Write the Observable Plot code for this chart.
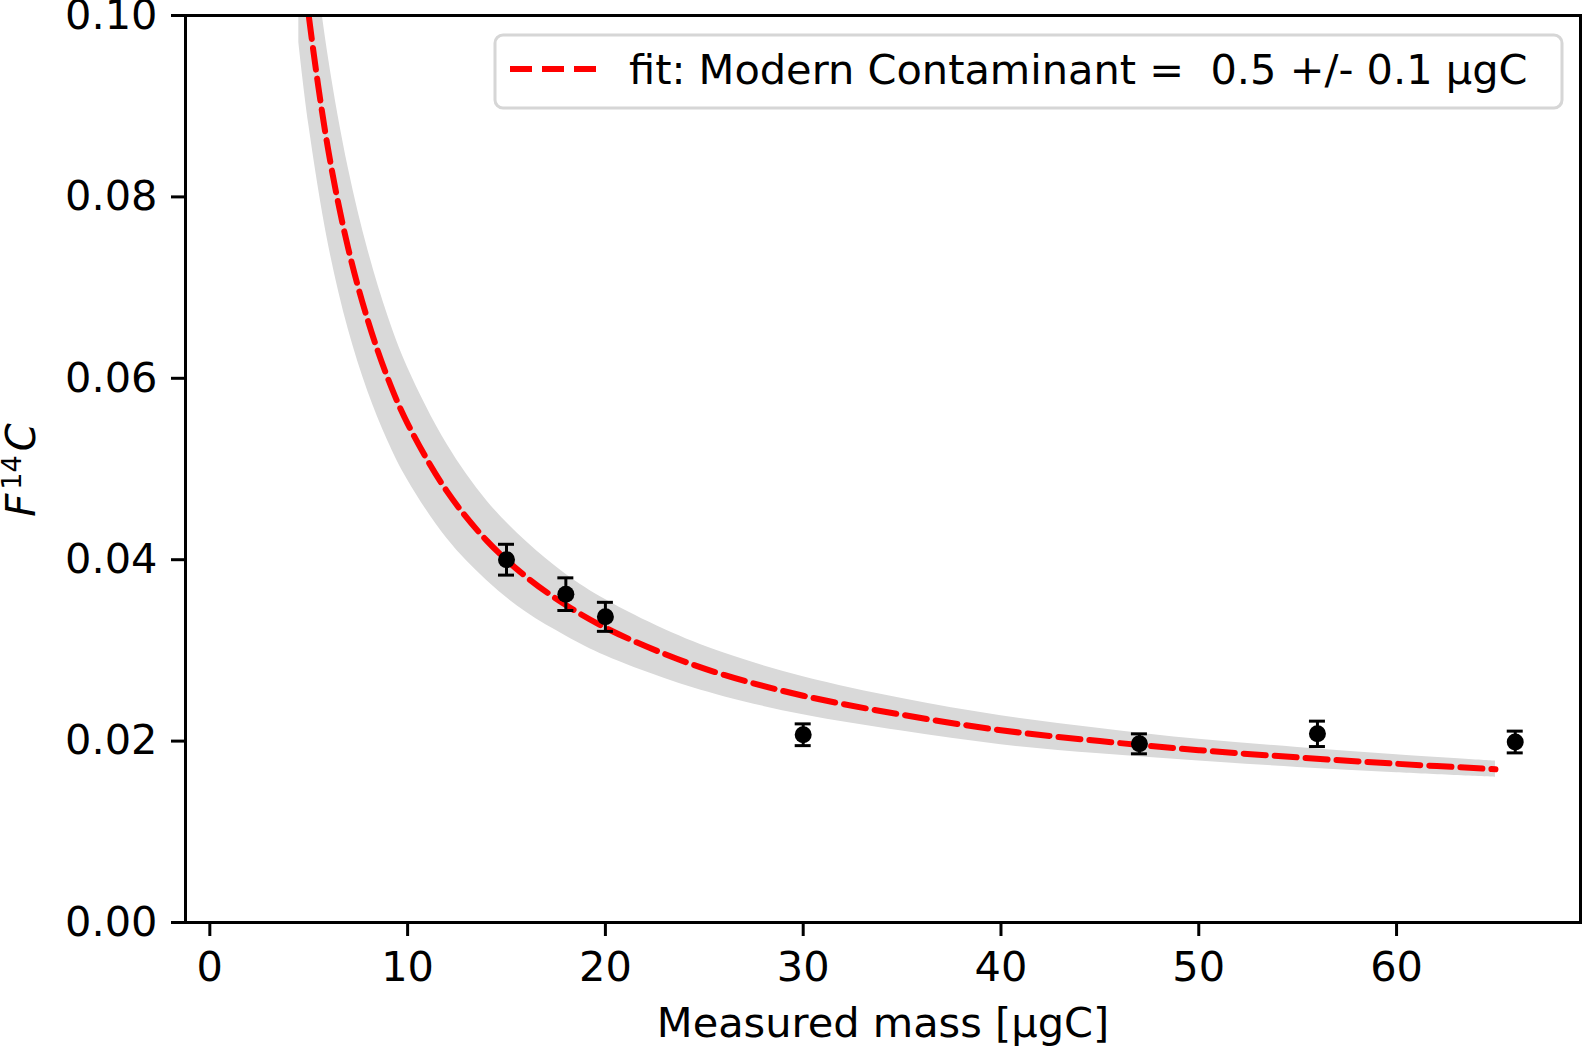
<!DOCTYPE html>
<html>
<head>
<meta charset="utf-8">
<script src="https://cdn.jsdelivr.net/npm/d3@7"></script>
<script src="https://cdn.jsdelivr.net/npm/@observablehq/plot@0.6"></script>
<style>
  html, body { margin: 0; padding: 0; background: white; overflow: hidden; }
  #chart svg { display: block; }
</style>
</head>
<body>
<div id="chart"></div>
<script>
// measured samples
const mass = [15, 18, 20, 30, 47, 56, 66]
const f14c = [0.0400, 0.0362, 0.0337, 0.0207, 0.0197, 0.0208, 0.0199]
const f14cErr = [0.0017, 0.0018, 0.0016, 0.0012, 0.0011, 0.0014, 0.0012]

// fit curve and its uncertainty band
const fitMass = [4.5, 5, 6, 7, 8, 9, 10, 12, 14, 16, 18, 20, 23, 26, 30, 35, 40, 45, 50, 55, 60, 65]
const fitValue = [0.110, 0.100, 0.085, 0.0743, 0.0663, 0.060, 0.055, 0.0475, 0.0421, 0.0381, 0.035, 0.0325,
  0.0296, 0.0273, 0.025, 0.0229, 0.0212, 0.020, 0.019, 0.0182, 0.0175, 0.0169]
const bandLow = [0.097, 0.088, 0.0747, 0.0654, 0.0585, 0.0531, 0.0488, 0.0423, 0.0377, 0.0342, 0.0316, 0.0294,
  0.0269, 0.0249, 0.0229, 0.0211, 0.0196, 0.0186, 0.0178, 0.0171, 0.0165, 0.016]
const bandHigh = [0.123, 0.112, 0.0953, 0.0832, 0.0741, 0.0669, 0.0612, 0.0527, 0.0465, 0.042, 0.0384, 0.0356,
  0.0323, 0.0297, 0.0271, 0.0247, 0.0228, 0.0214, 0.0202, 0.0193, 0.0185, 0.0178]

const xTicks = [0, 10, 20, 30, 40, 50, 60]
const yTicks = [0, 0.02, 0.04, 0.06, 0.08, 0.10]
const xLabel = 'Measured mass [µgC]'
const legendLabel = 'fit: Modern Contaminant =  0.5 +/- 0.1 µgC'

const points = mass.map((m, i) => ({m, f: f14c[i], e: f14cErr[i]}))
const fit = fitMass.map((m, i) => ({m, f: fitValue[i], lo: bandLow[i], hi: bandHigh[i]}))

const font = 'DejaVu Sans, sans-serif'
const fs = 41.5

let chart = Plot.plot({
  width: 1583,
  height: 1047,
  marginLeft: 185,
  marginRight: 3,
  marginTop: 15,
  marginBottom: 125,
  style: {fontFamily: font, fontSize: fs + 'px', color: 'black', background: 'white'},
  x: {domain: [-1.23, 69.3]},
  y: {domain: [0, 0.1]},
  marks: [
    Plot.areaY(fit, {x: 'm', y1: 'lo', y2: 'hi', fill: '#d9d9d9', curve: 'catmull-rom', clip: true}),
    Plot.line(fit, {
      x: 'm', y: 'f',
      stroke: '#ff0000', strokeWidth: 6, strokeDasharray: '22,9',
      curve: 'catmull-rom', clip: true
    }),
    Plot.ruleX(points, {x: 'm', y1: d => d.f - d.e, y2: d => d.f + d.e, stroke: 'black', strokeWidth: 3}),
    Plot.ruleY(points, {y: d => d.f - d.e, x1: 'm', x2: 'm', insetLeft: -8, insetRight: -8, stroke: 'black', strokeWidth: 3}),
    Plot.ruleY(points, {y: d => d.f + d.e, x1: 'm', x2: 'm', insetLeft: -8, insetRight: -8, stroke: 'black', strokeWidth: 3}),
    Plot.dot(points, {x: 'm', y: 'f', r: 8.5, fill: 'black'}),
    Plot.frame({stroke: 'black', strokeWidth: 3}),
    Plot.axisX({
      ticks: xTicks,
      tickSize: 14,
      tickPadding: 15,
      strokeWidth: 3,
      fontSize: fs,
      label: null,
    }),
    Plot.axisY({
      ticks: yTicks,
      tickFormat: d3.format('.2f'),
      tickSize: 14,
      tickPadding: 14,
      strokeWidth: 3,
      fontSize: fs,
      label: null,
    }),
    Plot.text([xLabel], {frameAnchor: 'bottom', lineAnchor: 'bottom', dy: 114, fontSize: fs}),
  ],
})

const svg = d3.select(chart)

// y label with italic F, C and superscript 14
const yl = svg.append('text')
  .attr('transform', 'translate(35,470) rotate(-90)')
  .attr('text-anchor', 'middle')
  .attr('font-family', font)
  .attr('font-size', 40)
  .attr('fill', 'black')
yl.append('tspan').attr('font-style', 'italic').text('F')
yl.append('tspan').attr('font-size', 27).attr('dx', 4).attr('dy', -14).text('14')
yl.append('tspan').attr('font-style', 'italic').attr('dx', 4).attr('dy', 14).text('C')

// legend
const lg = svg.append('g')
lg.append('rect')
  .attr('x', 495).attr('y', 35).attr('width', 1067).attr('height', 73)
  .attr('rx', 8)
  .attr('fill', 'white').attr('fill-opacity', 0.8)
  .attr('stroke', '#d6d6d6').attr('stroke-width', 3)
lg.append('line')
  .attr('x1', 510).attr('x2', 596).attr('y1', 69).attr('y2', 69)
  .attr('stroke', '#ff0000').attr('stroke-width', 6).attr('stroke-dasharray', '22,10')
lg.append('text')
  .attr('x', 629).attr('y', 84)
  .attr('text-anchor', 'start')
  .attr('font-family', font).attr('font-size', fs)
  .style('white-space', 'pre')
  .attr('fill', 'black')
  .text(legendLabel)

d3.select('#chart').append(() => chart)
</script>
</body>
</html>
